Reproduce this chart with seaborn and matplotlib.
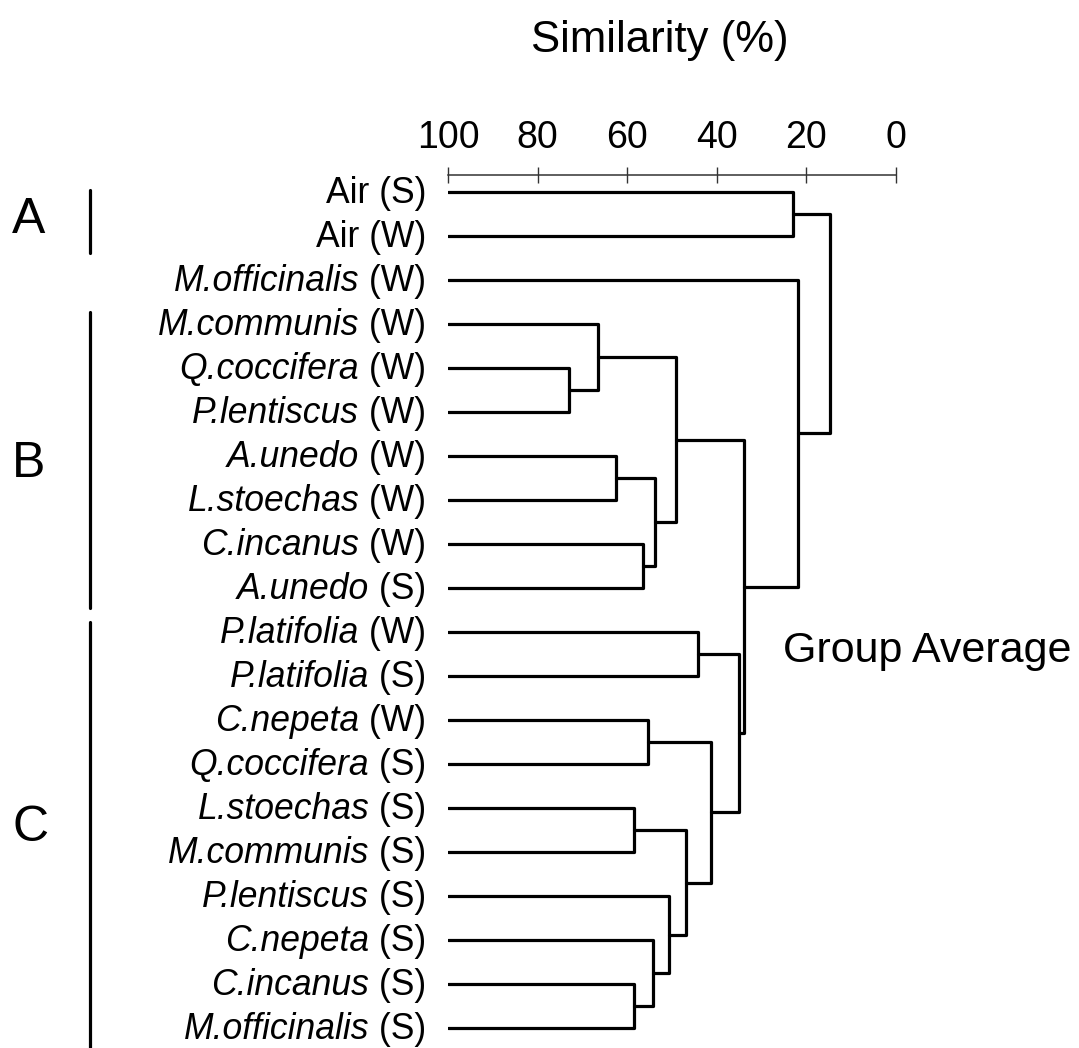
import numpy as np
import pandas as pd
import matplotlib
matplotlib.use("Agg")
import matplotlib.pyplot as plt
from matplotlib.lines import Line2D
import seaborn as sns

# ---------------- data ----------------
species = ["Air", "Air", "M.officinalis", "M.communis", "Q.coccifera", "P.lentiscus",
           "A.unedo", "L.stoechas", "C.incanus", "A.unedo", "P.latifolia", "P.latifolia",
           "C.nepeta", "Q.coccifera", "L.stoechas", "M.communis", "P.lentiscus",
           "C.nepeta", "C.incanus", "M.officinalis"]
season = ["S", "W", "W", "W", "W", "W", "W", "W", "W", "S",
          "W", "S", "W", "S", "S", "S", "S", "S", "S", "S"]
italic = [False, False] + [True] * 18

# merges: (child a, child b, similarity %); leaves 0-19, clusters 20+
merge_a = [4, 3, 6, 8, 22, 21, 0, 10, 12, 14, 18, 17, 16, 29, 28, 27, 25, 2, 26]
merge_b = [5, 20, 7, 9, 23, 24, 1, 11, 13, 15, 19, 30, 31, 32, 33, 34, 35, 36, 37]
merge_sim = [73.1, 66.6, 62.6, 56.4, 53.8, 49.1, 23.1, 44.1, 55.3, 58.5, 58.5,
             54.3, 50.7, 46.9, 41.4, 35.0, 33.9, 21.8, 14.7]

sim_ticks = [100, 80, 60, 40, 20, 0]
groups = ["A", "B", "C"]

# ---------------- build dendrogram segments ----------------
n = len(species)
pos = {i: (100.0, float(i)) for i in range(n)}
rows = []
for k, (a, b, s) in enumerate(zip(merge_a, merge_b, merge_sim)):
    xa, ya = pos[a]
    xb, yb = pos[b]
    for x, y in [(xa, ya), (s, ya), (s, yb), (xb, yb)]:
        rows.append({"seg": k, "x": x, "y": y})
    pos[n + k] = (s, (ya + yb) / 2)
seg_df = pd.DataFrame(rows)

# ---------------- styling ----------------
sns.set_theme(style="white")
plt.rcParams["font.family"] = ["Liberation Sans", "DejaVu Sans"]
plt.rcParams["text.color"] = "black"
plt.rcParams["xtick.color"] = "black"
plt.rcParams["ytick.color"] = "black"

W, H = 1079, 1048
fig = plt.figure(figsize=(W / 100, H / 100), dpi=100)
fig.patch.set_facecolor("white")

# axes: x 100 -> px 448, 0 -> px 896 ; leaf i at px 192.3 + step * i
top_px, bot_px = 175, 1048
row_step = 44.0
ax = fig.add_axes([448 / W, 1 - bot_px / H, 448 / W, (bot_px - top_px) / H])
ax.set_facecolor("white")

sns.lineplot(data=seg_df, x="x", y="y", units="seg", estimator=None, sort=False,
             color="black", linewidth=2.3, ax=ax, legend=False)

ax.set_xlim(100, 0)
ax.set_ylim((bot_px - 192.3) / row_step, (top_px - 192.3) / row_step)
ax.set_xlabel("")
ax.set_ylabel("")

for side in ["left", "right", "bottom"]:
    ax.spines[side].set_visible(False)
ax.spines["top"].set_visible(True)
ax.spines["top"].set_color("#333333")
ax.spines["top"].set_linewidth(1.1)

ax.xaxis.tick_top()
ax.set_xticks(sim_ticks)
ax.set_xticklabels([str(t) for t in sim_ticks])
ax.tick_params(axis="x", top=True, bottom=False, labeltop=True, labelbottom=False,
               direction="inout", length=11.5, width=1.0, color="#333333",
               pad=8, labelsize=27, labelcolor="black")
ax.set_yticks([])
ax.grid(False)

# ---------------- leaf labels (italic species + upright season) ----------------
renderer = fig.canvas.get_renderer()
label_fs = 25.6
gap_pt = -15.5
base_off = -7.9  # baseline below leaf line (points)
ytrans = ax.get_yaxis_transform()
for i, (sp, se, it) in enumerate(zip(species, season, italic)):
    if not it:
        ax.annotate(f"{sp} ({se})", xy=(0, i), xycoords=ytrans,
                    xytext=(gap_pt, base_off), textcoords="offset points",
                    ha="right", va="baseline", fontsize=label_fs, color="black",
                    annotation_clip=False)
        continue
    suf = ax.annotate(f" ({se})", xy=(0, i), xycoords=ytrans,
                      xytext=(gap_pt, base_off), textcoords="offset points",
                      ha="right", va="baseline", fontsize=label_fs, color="black",
                      annotation_clip=False)
    w_pt = suf.get_window_extent(renderer).width * 72 / fig.dpi
    ax.annotate(sp, xy=(0, i), xycoords=ytrans,
                xytext=(gap_pt - w_pt, base_off), textcoords="offset points",
                ha="right", va="baseline", fontsize=label_fs, style="italic",
                color="black", annotation_clip=False)

# ---------------- annotations ----------------
fig.text(660 / W, 1 - 52 / H, "Similarity (%)", ha="center", va="baseline",
         fontsize=31.5, color="black")
fig.text(783 / W, 1 - 662 / H, "Group Average", ha="left", va="baseline",
         fontsize=31, color="black")

letter_pos = [(29, 233), (29, 477), (31, 841)]
bar_span = [(190, 253), (312, 608), (622, 1048)]
for g, (lx, ly), (y0, y1) in zip(groups, letter_pos, bar_span):
    fig.text(lx / W, 1 - ly / H, g, ha="center", va="baseline", fontsize=36,
             color="black")
    fig.add_artist(Line2D([90 / W, 90 / W], [1 - y0 / H, 1 - y1 / H],
                          transform=fig.transFigure, color="black", linewidth=2.3))

fig.savefig("out.png", dpi=100, facecolor="white")
